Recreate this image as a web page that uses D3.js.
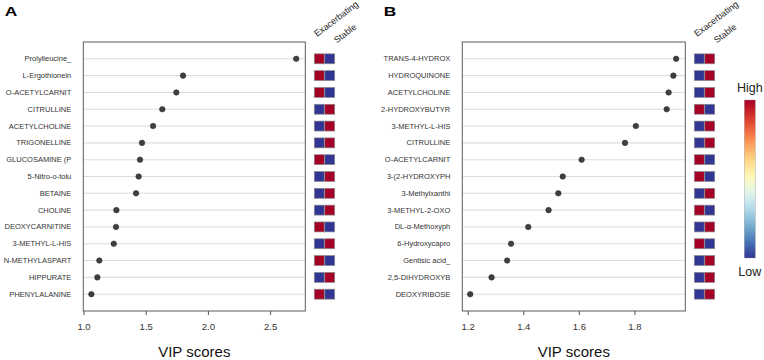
<!DOCTYPE html>
<html>
<head>
<meta charset="UTF-8">
<script src="https://d3js.org/d3.v7.min.js"></script>
<style>
    body { margin: 0; background: #fff; font-family: "Liberation Sans", Arial, sans-serif; }
    .grid { stroke: #dcdcdc; stroke-width: 1.1px; }
    .name { font-size: 7.5px; fill: #333; }
    .tick text { font-size: 9.5px; fill: #333; }
</style>
</head>
<body>
<div id="chart"></div>
<script>
// Panel A
const namesA = ["Prolylleucine_", "L-Ergothionein", "O-ACETYLCARNIT", "CITRULLINE", "ACETYLCHOLINE",
    "TRIGONELLINE", "GLUCOSAMINE (P", "5-Nitro-o-tolu", "BETAINE", "CHOLINE", "DEOXYCARNITINE",
    "3-METHYL-L-HIS", "N-METHYLASPART", "HIPPURATE", "PHENYLALANINE"];
const vipA = [2.71, 1.80, 1.746, 1.633, 1.559, 1.470, 1.454, 1.443, 1.422, 1.264, 1.261, 1.243, 1.127, 1.111, 1.063];
// 1 = high in Exacerbating (low in Stable), 0 = the reverse
const exacHighA = [1, 1, 1, 0, 0, 0, 1, 0, 0, 0, 1, 0, 1, 0, 1];
const ticksA = [1.0, 1.5, 2.0, 2.5];

// Panel B
const namesB = ["TRANS-4-HYDROX", "HYDROQUINONE", "ACETYLCHOLINE", "2-HYDROXYBUTYR", "3-METHYL-L-HIS",
    "CITRULLINE", "O-ACETYLCARNIT", "3-(2-HYDROXYPH", "3-Methylxanthi", "3-METHYL-2-OXO",
    "DL-α-Methoxyph", "6-Hydroxycapro", "Gentisic acid_", "2,5-DIHYDROXYB", "DEOXYRIBOSE"];
const vipB = [1.950, 1.940, 1.923, 1.916, 1.805, 1.766, 1.610, 1.542, 1.526, 1.491, 1.418, 1.356, 1.342, 1.286, 1.209];
const exacHighB = [0, 0, 0, 1, 0, 0, 1, 1, 0, 1, 0, 1, 0, 0, 0];
const ticksB = [1.2, 1.4, 1.6, 1.8];

const groups = ["Exacerbating", "Stable"];

const W = 764, H = 360;
const plotTop = 42, plotBottom = 311;
const red = "#a50026", blue = "#313695";

const svg = d3.select("#chart").append("svg")
    .attr("width", W).attr("height", H);

function drawPanel(letter, names, vip, exacHigh, ticks, left, right, domain) {
    const x = d3.scaleLinear().domain(domain).range([left, right]);
    const y = d3.scalePoint().domain(names).range([plotTop, plotBottom]).padding(1);
    const g = svg.append("g");

    // panel letter (wide, like the stretched original)
    g.append("text").attr("transform", `translate(${left - 78.5},15.5) scale(1.45,1)`)
        .style("font-size", "12px").style("font-weight", "bold").style("fill", "#000")
        .text(letter);

    // horizontal guide lines
    g.selectAll(".grid").data(names).enter().append("line")
        .attr("class", "grid")
        .attr("x1", left).attr("x2", right)
        .attr("y1", d => y(d)).attr("y2", d => y(d));

    // frame
    g.append("rect").attr("x", left).attr("y", plotTop)
        .attr("width", right - left).attr("height", plotBottom - plotTop)
        .attr("fill", "none").attr("stroke", "#5a5a5a").attr("stroke-width", 1);

    // names
    g.selectAll(".name").data(names).enter().append("text")
        .attr("class", "name")
        .attr("x", left - 12).attr("y", d => y(d))
        .attr("text-anchor", "end").attr("dominant-baseline", "central")
        .text(d => d);

    // dots
    g.selectAll(".dot").data(names).enter().append("circle")
        .attr("cx", (d, i) => x(vip[i])).attr("cy", d => y(d))
        .attr("r", 2.8).attr("fill", "#3f3f3f").attr("stroke", "#2a2a2a").attr("stroke-width", 0.5);

    // x axis
    const ax = g.append("g").attr("transform", `translate(0,${plotBottom})`)
        .call(d3.axisBottom(x).tickValues(ticks).tickFormat(d3.format(".1f")).tickSize(4).tickPadding(8));
    ax.select(".domain").remove();
    ax.selectAll(".tick line").attr("stroke", "#555");

    g.append("text").attr("x", (left + right) / 2).attr("y", 357)
        .attr("text-anchor", "middle").style("font-size", "15px").style("fill", "#111")
        .text("VIP scores");

    // group squares
    const c = d3.scaleBand().domain(groups).range([right + 9, right + 29.4]).paddingInner(0.05);
    names.forEach((n, i) => {
        groups.forEach((gr, j) => {
            const high = (j === 0) === (exacHigh[i] === 1);
            g.append("rect")
                .attr("x", c(gr)).attr("y", y(n) - c.bandwidth() / 2)
                .attr("width", c.bandwidth()).attr("height", c.bandwidth())
                .attr("fill", high ? red : blue)
                .attr("stroke", "#8a8a8a").attr("stroke-width", 0.7);
        });
    });

    // rotated group headers
    const hx = [right + 11.7, right + 31.5], hy = [37, 43.5];
    groups.forEach((gr, j) => {
        g.append("text")
            .attr("transform", `translate(${hx[j]},${hy[j]}) rotate(-37)`)
            .style("font-size", "9px").style("fill", "#222")
            .text(gr);
    });
}

drawPanel("A", namesA, vipA, exacHighA, ticksA, 83.3, 305.3, [0.998, 2.783]);
drawPanel("B", namesB, vipB, exacHighB, ticksB, 462.3, 685.3, [1.1806, 1.983]);

// colour key
const defs = svg.append("defs");
const grad = defs.append("linearGradient").attr("id", "rdylbu")
    .attr("x1", "0%").attr("y1", "0%").attr("x2", "0%").attr("y2", "100%");
d3.range(0, 1.0001, 0.05).forEach(t => {
    grad.append("stop").attr("offset", (t * 100) + "%").attr("stop-color", d3.interpolateRdYlBu(t));
});
svg.append("rect").attr("x", 744.3).attr("y", 100).attr("width", 11).attr("height", 158)
    .attr("fill", "url(#rdylbu)").attr("stroke", "#999").attr("stroke-width", 0.4);
svg.append("text").attr("x", 749.8).attr("y", 92).attr("text-anchor", "middle")
    .style("font-size", "12.5px").style("fill", "#222").text("High");
svg.append("text").attr("x", 749.8).attr("y", 276).attr("text-anchor", "middle")
    .style("font-size", "12.5px").style("fill", "#222").text("Low");
</script>
</body>
</html>
